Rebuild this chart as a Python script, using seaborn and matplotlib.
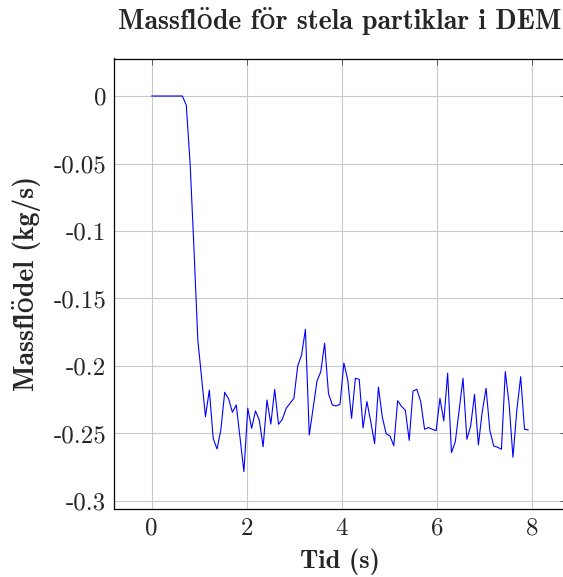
import matplotlib
matplotlib.use("Agg")
import matplotlib.pyplot as plt
import seaborn as sns
import pandas as pd

# ---- data ----
tid = [0.000, 0.081, 0.162, 0.242, 0.323, 0.404, 0.485, 0.566, 0.646, 0.727,
       0.808, 0.889, 0.970, 1.050, 1.131, 1.212, 1.293, 1.374, 1.454, 1.535,
       1.616, 1.697, 1.778, 1.858, 1.939, 2.020, 2.101, 2.182, 2.262, 2.343,
       2.424, 2.505, 2.586, 2.666, 2.747, 2.828, 2.909, 2.990, 3.070, 3.151,
       3.232, 3.313, 3.394, 3.474, 3.555, 3.636, 3.717, 3.798, 3.878, 3.959,
       4.040, 4.121, 4.202, 4.282, 4.363, 4.444, 4.525, 4.606, 4.686, 4.767,
       4.848, 4.929, 5.010, 5.090, 5.171, 5.252, 5.333, 5.414, 5.494, 5.575,
       5.656, 5.737, 5.818, 5.898, 5.979, 6.060, 6.141, 6.222, 6.302, 6.383,
       6.464, 6.545, 6.626, 6.706, 6.787, 6.868, 6.949, 7.030, 7.110, 7.191,
       7.272, 7.353, 7.434, 7.514, 7.595, 7.676, 7.757, 7.838, 7.918]

massflode = [0.0, 0.0, 0.0, 0.0, 0.0, 0.0, 0.0, 0.0, 0.0, -0.0067,
             -0.0499, -0.113, -0.1807, -0.209, -0.2376, -0.2178, -0.2536, -0.2615, -0.2474, -0.2195,
             -0.2242, -0.2343, -0.2289, -0.2533, -0.2783, -0.2313, -0.2462, -0.2333, -0.2400, -0.2598,
             -0.2252, -0.2430, -0.2173, -0.2432, -0.2395, -0.2313, -0.2276, -0.2239, -0.2000, -0.1919,
             -0.1728, -0.2511, -0.2313, -0.2113, -0.2042, -0.1832, -0.2204, -0.2289, -0.2296, -0.2284,
             -0.1978, -0.2101, -0.2387, -0.2091, -0.2099, -0.2459, -0.2263, -0.2413, -0.2576, -0.2156,
             -0.2378, -0.2501, -0.2519, -0.2590, -0.2257, -0.2299, -0.2328, -0.2551, -0.2185, -0.2173,
             -0.2264, -0.2469, -0.2456, -0.2469, -0.2479, -0.2239, -0.2407, -0.2054, -0.2642, -0.2561,
             -0.2326, -0.2091, -0.2543, -0.2444, -0.2210, -0.2585, -0.2339, -0.2165, -0.2479, -0.2593,
             -0.2602, -0.2617, -0.2042, -0.2281, -0.2676, -0.2330, -0.2079, -0.2469, -0.2474]

x_ticks = [0, 2, 4, 6, 8]
x_tick_labels = ["0", "2", "4", "6", "8"]
y_ticks = [0, -0.05, -0.1, -0.15, -0.2, -0.25, -0.3]
y_tick_labels = ["0", "-0.05", "-0.1", "-0.15", "-0.2", "-0.25", "-0.3"]

title = "Massflöde för stela partiklar i DEM"
x_label = "Tid (s)"
y_label = "Massflödel (kg/s)"

df = pd.DataFrame({"Tid": tid, "Massflode": massflode})

sns.set_style("white")
plt.rcParams["axes.unicode_minus"] = False
plt.rcParams["font.family"] = ["cmr10", "DejaVu Serif"]

W, H = 563, 577
fig = plt.figure(figsize=(W / 100, H / 100), dpi=100)
ax = fig.add_axes([114 / W, 1 - 508.8 / H, (566 - 114) / W, (508.8 - 58.5) / H])

sns.lineplot(data=df, x="Tid", y="Massflode", color="#0000ff", linewidth=0.8, ax=ax)

regular = ["cmr10", "DejaVu Serif"]
bold = ["cmb10", "DejaVu Serif"]
FS = 18

ax.set_xlim(-0.792, 8.71)
ax.set_ylim(-0.3058, 0.0278)
ax.set_xticks(x_ticks)
ax.set_xticklabels(x_tick_labels, fontsize=FS, family=regular)
ax.set_yticks(y_ticks)
ax.set_yticklabels(y_tick_labels, fontsize=FS, family=regular)
ax.grid(True, color="#c8c8c8", linewidth=0.8)
ax.set_axisbelow(True)
ax.tick_params(direction="in", length=4, width=0.6, color="#444444",
               top=True, right=True)
ax.tick_params(axis="y", pad=5.5)
ax.tick_params(axis="x", pad=6.5)
for s in ax.spines.values():
    s.set_linewidth(0.9)
    s.set_color("black")

ax.set_title(title, fontsize=20, family=bold, pad=21)
ax.set_xlabel(x_label, fontsize=19, family=bold, labelpad=6)
ax.set_ylabel(y_label, fontsize=20, family=bold, labelpad=9)

fig.savefig("out.png", dpi=100)
